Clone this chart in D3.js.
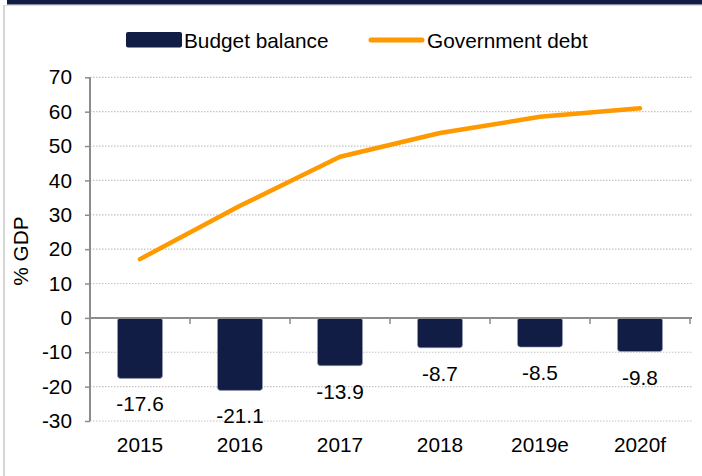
<!DOCTYPE html>
<html><head><meta charset="utf-8">
<script src="https://cdn.jsdelivr.net/npm/d3@7"></script>
<style>body{margin:0;background:#fff}svg{display:block;font-family:"Liberation Sans",Arial,sans-serif}</style>
</head><body>
<svg id="c" width="702" height="476"></svg>
<script>
const categories = ["2015","2016","2017","2018","2019e","2020f"];
const budgetBalance = [-17.6,-21.1,-13.9,-8.7,-8.5,-9.8];
const governmentDebt = [17.1,32.6,46.9,53.8,58.5,61.0];
const yTicks = [-30,-20,-10,0,10,20,30,40,50,60,70];
const seriesNames = ["Budget balance","Government debt"];

const navy = "#111d45", orange = "#ff9900";
const FS = 20.8;
const svg = d3.select("#c");

// frame decoration
svg.append("rect").attr("x",7).attr("y",0).attr("width",695).attr("height",4.5).attr("fill",navy);
svg.append("line").attr("x1",4).attr("x2",702).attr("y1",5.5).attr("y2",5.5).attr("stroke","#dcdcdc").attr("stroke-width",1);
svg.append("line").attr("x1",4).attr("x2",4).attr("y1",5).attr("y2",476).attr("stroke","#d6d6d6").attr("stroke-width",2);

const x = d3.scaleBand().domain(categories).range([90,690]).paddingInner(0.55).paddingOuter(0.275);
const xc = d3.scaleBand().domain(categories).range([90,690]);
const y = d3.scaleLinear().domain([-30,70]).range([421,77.3]);

// gridlines
svg.append("g").selectAll("line").data(yTicks.filter(d=>d!==0)).join("line")
  .attr("x1",90).attr("x2",692).attr("y1",d=>y(d)).attr("y2",d=>y(d))
  .attr("stroke","#c4c4c4").attr("stroke-width",1.2).attr("stroke-dasharray","1.5,1.5");

// bars
svg.append("g").selectAll("rect").data(budgetBalance).join("rect")
  .attr("x",(d,i)=>x(categories[i])).attr("width",x.bandwidth())
  .attr("y",d=>y(Math.max(0,d))).attr("height",d=>Math.abs(y(d)-y(0)))
  .attr("rx",3).attr("fill",navy).attr("stroke","#9aa0b4").attr("stroke-width",0.6);

// bar labels
svg.append("g").selectAll("text").data(budgetBalance).join("text")
  .attr("x",(d,i)=>xc(categories[i])+xc.bandwidth()/2).attr("y",d=>y(d)+33)
  .attr("text-anchor","middle").attr("font-size",FS).attr("fill","#000")
  .text(d=>d.toFixed(1));

// x axis (zero line with category ticks)
const gx = svg.append("g").attr("transform",`translate(0,${y(0)})`);
gx.append("line").attr("x1",90).attr("x2",692).attr("stroke","#8c8c8c").attr("stroke-width",2);
gx.selectAll("line.t").data(categories).join("line").attr("class","t")
  .attr("x1",d=>xc(d)+xc.bandwidth()).attr("x2",d=>xc(d)+xc.bandwidth())
  .attr("y1",0).attr("y2",6).attr("stroke","#8c8c8c").attr("stroke-width",1.5);

// category labels
svg.append("g").selectAll("text").data(categories).join("text")
  .attr("x",d=>xc(d)+xc.bandwidth()/2).attr("y",452)
  .attr("text-anchor","middle").attr("font-size",FS).attr("fill","#000").text(d=>d);

// debt line
const line = d3.line().x((d,i)=>xc(categories[i])+xc.bandwidth()/2).y(d=>y(d));
svg.append("path").datum(governmentDebt).attr("d",line).attr("fill","none")
  .attr("stroke",orange).attr("stroke-width",4.5).attr("stroke-linecap","round").attr("stroke-linejoin","round");

// y axis
const gy = svg.append("g").attr("transform","translate(90,0)")
  .call(d3.axisLeft(y).tickValues(yTicks).tickSize(5).tickPadding(13).tickFormat(d3.format("d")));
gy.select(".domain").attr("stroke","#8c8c8c").attr("stroke-width",2).attr("d",`M-0,${y(70)}V${y(-30)}`);
gy.selectAll(".tick line").attr("stroke","#8c8c8c").attr("stroke-width",1.5);
gy.selectAll(".tick text").attr("font-size",FS).attr("fill","#000").attr("font-family","Liberation Sans, Arial, sans-serif")
  .text(d=>d<0? "-"+Math.abs(d) : d);

// y title
svg.append("text").attr("transform","translate(28,251) rotate(-90)").attr("text-anchor","middle")
  .attr("font-size",FS).attr("fill","#000").text("% GDP");

// legend
svg.append("rect").attr("x",126).attr("y",32).attr("width",56).attr("height",15.5).attr("rx",2).attr("fill",navy);
svg.append("text").attr("x",184).attr("y",47.5).attr("font-size",FS).attr("fill","#000").text(seriesNames[0]);
svg.append("line").attr("x1",371).attr("x2",422).attr("y1",40).attr("y2",40)
  .attr("stroke",orange).attr("stroke-width",5).attr("stroke-linecap","round");
svg.append("text").attr("x",427).attr("y",47.5).attr("font-size",FS).attr("fill","#000").text(seriesNames[1]);
</script>
</body></html>
